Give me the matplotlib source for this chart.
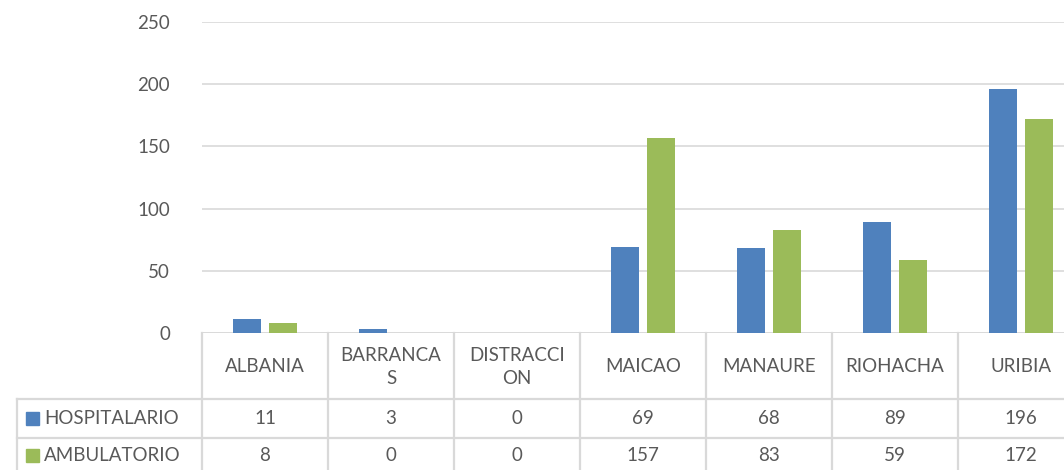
import matplotlib
matplotlib.use("Agg")
import matplotlib.pyplot as plt
from matplotlib.transforms import blended_transform_factory
import numpy as np

categories = ["ALBANIA", "BARRANCAS", "DISTRACCION", "MAICAO", "MANAURE", "RIOHACHA", "URIBIA"]
header_labels = ["ALBANIA", "BARRANCA\nS", "DISTRACCI\nON", "MAICAO", "MANAURE", "RIOHACHA", "URIBIA"]
series_names = ["HOSPITALARIO", "AMBULATORIO"]
hospitalario = [11, 3, 0, 69, 68, 89, 196]
ambulatorio = [8, 0, 0, 157, 83, 59, 172]
yticks = [0, 50, 100, 150, 200, 250]

colors = ["#4F81BD", "#9BBB59"]
grid_c = "#D9D9D9"
text_c = "#595959"
font = "Lato"
fs = 13.5

W, H = 1064, 470
fig = plt.figure(figsize=(W / 100, H / 100), dpi=100)
def fx(px): return px / W
def fy(py): return 1 - py / H

ax_left, ax_right = 202, 202 + 7 * 126
ax_top, ax_bot = 22, 333
ax = fig.add_axes([fx(ax_left), fy(ax_bot), fx(ax_right - ax_left), (ax_bot - ax_top) / H])

x = np.arange(len(categories))
bw = 0.225
off = 0.143
ax.bar(x - off, hospitalario, width=bw, color=colors[0], zorder=3)
ax.bar(x + off, ambulatorio, width=bw, color=colors[1], zorder=3)
ax.set_xlim(-0.5, len(categories) - 0.5)
ax.set_ylim(0, 250)
ax.set_yticks(yticks)
ax.set_yticklabels([str(v) for v in yticks], fontsize=fs, color=text_c, family=font)
ax.tick_params(axis="y", length=0, pad=23)
ax.set_xticks([])
for s in ax.spines.values():
    s.set_visible(False)
ax.grid(axis="y", color=grid_c, linewidth=1.2, zorder=0)
ax.axhline(0, color=grid_c, linewidth=1.2, zorder=2)

# data table
tr = blended_transform_factory(ax.transData, fig.transFigure)
row_y = [333, 399, 437.5, 476]
line_kw = dict(color=grid_c, linewidth=1.6, clip_on=False)
for b in np.arange(len(categories) + 1) - 0.5:
    fig.add_artist(plt.Line2D([b, b], [fy(row_y[0]), fy(row_y[3])], transform=tr, **line_kw))
for ry in row_y[1:3]:
    fig.add_artist(plt.Line2D([fx(17), 1.0], [fy(ry), fy(ry)], transform=fig.transFigure, **line_kw))
fig.add_artist(plt.Line2D([fx(17), fx(17)], [fy(row_y[1]), fy(row_y[3])], transform=fig.transFigure, **line_kw))

for i, lab in enumerate(header_labels):
    fig.text(x[i], fy((row_y[0] + row_y[1]) / 2 + 1), lab, transform=tr, ha="center", va="center",
             fontsize=fs, color=text_c, family=font, linespacing=1.45)

for r, (name, vals) in enumerate(zip(series_names, [hospitalario, ambulatorio])):
    cy = fy((row_y[r + 1] + row_y[r + 2]) / 2 - (0 if r == 0 else 1))
    fig.add_artist(plt.Rectangle((fx(26), cy - 6.5 / H), 13 / W, 13 / H, transform=fig.transFigure,
                                 color=colors[r]))
    fig.text(fx(44), cy, name, ha="left", va="center", fontsize=fs, color=text_c, family=font)
    for i, v in enumerate(vals):
        fig.text(x[i], cy, str(v), transform=tr, ha="center", va="center",
                 fontsize=fs, color=text_c, family=font)

fig.savefig("out.png", dpi=100, facecolor="white")
